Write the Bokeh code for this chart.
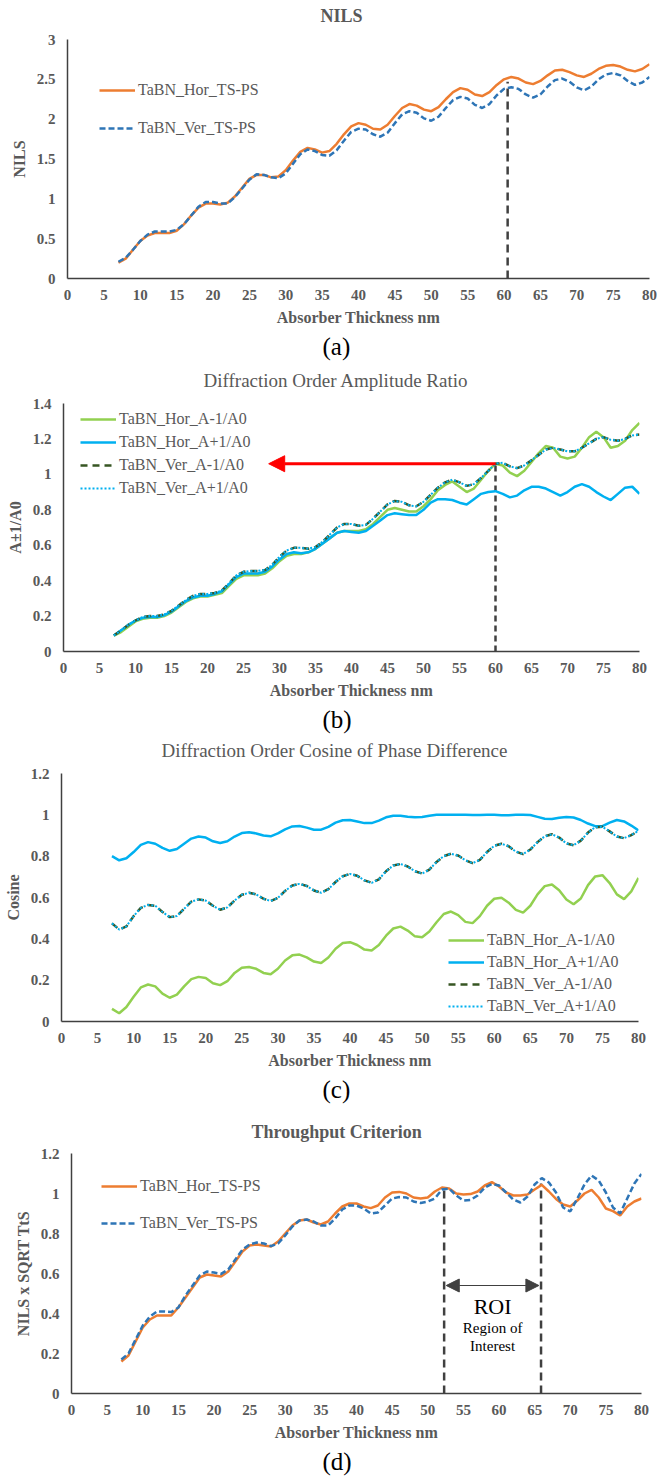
from bokeh.plotting import figure
from bokeh.models import (Range1d, Legend, LegendItem, Title, Arrow, NormalHead,
                          Label, CustomJSTickFormatter, FixedTicker)
from bokeh.embed import file_html
from bokeh.resources import INLINE

# ---------------- data ----------------
thickness = list(range(7, 81))

nils_hor = [0.20, 0.25, 0.36, 0.47, 0.54, 0.57, 0.57, 0.57, 0.60, 0.68, 0.79, 0.89, 0.94, 0.94,
            0.93, 0.95, 1.03, 1.14, 1.25, 1.30, 1.30, 1.27, 1.28, 1.36, 1.48, 1.59, 1.64, 1.62,
            1.58, 1.60, 1.69, 1.81, 1.91, 1.95, 1.93, 1.88, 1.87, 1.93, 2.04, 2.14, 2.19, 2.17,
            2.12, 2.10, 2.15, 2.25, 2.34, 2.39, 2.37, 2.31, 2.29, 2.34, 2.43, 2.50, 2.53, 2.51,
            2.46, 2.44, 2.48, 2.55, 2.61, 2.62, 2.59, 2.55, 2.53, 2.57, 2.63, 2.67, 2.68, 2.66,
            2.62, 2.60, 2.63, 2.69]
nils_ver = [0.21, 0.26, 0.36, 0.47, 0.55, 0.59, 0.59, 0.59, 0.61, 0.68, 0.79, 0.90, 0.96, 0.96,
            0.94, 0.94, 1.02, 1.13, 1.24, 1.31, 1.30, 1.27, 1.26, 1.32, 1.44, 1.56, 1.62, 1.60,
            1.55, 1.54, 1.61, 1.73, 1.84, 1.88, 1.87, 1.81, 1.78, 1.83, 1.95, 2.06, 2.10, 2.08,
            2.01, 1.98, 2.03, 2.14, 2.24, 2.28, 2.26, 2.18, 2.14, 2.19, 2.30, 2.38, 2.40, 2.38,
            2.31, 2.27, 2.31, 2.41, 2.49, 2.51, 2.47, 2.40, 2.36, 2.41, 2.50, 2.56, 2.58, 2.55,
            2.48, 2.43, 2.46, 2.53]

amp_hor_m1 = [0.09, 0.11, 0.14, 0.17, 0.185, 0.19, 0.19, 0.20, 0.22, 0.25, 0.28, 0.30, 0.31, 0.31,
              0.32, 0.33, 0.37, 0.41, 0.43, 0.43, 0.43, 0.44, 0.47, 0.51, 0.54, 0.55, 0.55, 0.56,
              0.58, 0.61, 0.64, 0.67, 0.68, 0.68, 0.68, 0.69, 0.72, 0.76, 0.80, 0.81, 0.80, 0.79,
              0.79, 0.82, 0.86, 0.91, 0.94, 0.96, 0.93, 0.90, 0.92, 0.97, 1.02, 1.06, 1.05, 1.01,
              0.99, 1.02, 1.07, 1.12, 1.16, 1.15, 1.10, 1.09, 1.10, 1.15, 1.21, 1.24, 1.21, 1.15,
              1.16, 1.19, 1.25, 1.29]
amp_hor_p1 = [0.09, 0.12, 0.15, 0.175, 0.19, 0.195, 0.195, 0.205, 0.225, 0.255, 0.285, 0.305, 0.315,
              0.315, 0.325, 0.34, 0.38, 0.42, 0.44, 0.44, 0.44, 0.45, 0.48, 0.52, 0.55, 0.56, 0.555,
              0.56, 0.58, 0.61, 0.64, 0.67, 0.68, 0.675, 0.67, 0.68, 0.71, 0.74, 0.77, 0.78, 0.775,
              0.77, 0.77, 0.80, 0.84, 0.86, 0.86, 0.855, 0.84, 0.83, 0.86, 0.89, 0.90, 0.905, 0.89,
              0.87, 0.88, 0.91, 0.93, 0.93, 0.92, 0.90, 0.88, 0.90, 0.93, 0.945, 0.93, 0.90, 0.875,
              0.855, 0.89, 0.925, 0.93, 0.89]
amp_ver_m1 = [0.09, 0.12, 0.15, 0.175, 0.195, 0.20, 0.20, 0.21, 0.23, 0.26, 0.29, 0.315, 0.325, 0.325,
              0.33, 0.345, 0.385, 0.43, 0.45, 0.455, 0.455, 0.46, 0.49, 0.535, 0.57, 0.585, 0.585,
              0.58, 0.59, 0.62, 0.66, 0.70, 0.72, 0.72, 0.71, 0.715, 0.75, 0.79, 0.83, 0.85, 0.845,
              0.825, 0.82, 0.845, 0.885, 0.925, 0.955, 0.97, 0.955, 0.935, 0.945, 0.98, 1.02, 1.06,
              1.065, 1.045, 1.035, 1.05, 1.08, 1.11, 1.14, 1.15, 1.14, 1.13, 1.13, 1.15, 1.175, 1.20,
              1.21, 1.195, 1.19, 1.20, 1.22, 1.225]
amp_ver_p1 = [0.09, 0.12, 0.15, 0.175, 0.195, 0.20, 0.20, 0.21, 0.23, 0.26, 0.29, 0.315, 0.325, 0.325,
              0.33, 0.345, 0.385, 0.43, 0.45, 0.455, 0.455, 0.46, 0.49, 0.535, 0.57, 0.585, 0.585,
              0.58, 0.59, 0.62, 0.66, 0.70, 0.72, 0.72, 0.71, 0.715, 0.75, 0.79, 0.83, 0.85, 0.845,
              0.825, 0.82, 0.845, 0.885, 0.925, 0.955, 0.97, 0.955, 0.935, 0.945, 0.98, 1.02, 1.06,
              1.065, 1.045, 1.035, 1.05, 1.08, 1.11, 1.14, 1.15, 1.14, 1.13, 1.13, 1.15, 1.175, 1.20,
              1.21, 1.195, 1.19, 1.20, 1.22, 1.225]

cos_hor_m1 = [0.061, 0.04, 0.07, 0.12, 0.165, 0.179, 0.17, 0.135, 0.115, 0.13, 0.17, 0.205, 0.216,
              0.21, 0.185, 0.176, 0.195, 0.235, 0.26, 0.264, 0.255, 0.235, 0.229, 0.255, 0.295, 0.32,
              0.324, 0.31, 0.29, 0.283, 0.31, 0.352, 0.38, 0.384, 0.37, 0.348, 0.344, 0.37, 0.415,
              0.45, 0.459, 0.44, 0.412, 0.408, 0.435, 0.48, 0.52, 0.532, 0.515, 0.482, 0.476, 0.51,
              0.56, 0.594, 0.599, 0.575, 0.54, 0.527, 0.56, 0.615, 0.655, 0.663, 0.635, 0.59, 0.567,
              0.595, 0.66, 0.702, 0.708, 0.67, 0.615, 0.592, 0.63, 0.695]
cos_hor_p1 = [0.80, 0.78, 0.79, 0.82, 0.855, 0.868, 0.86, 0.84, 0.826, 0.835, 0.86, 0.885, 0.895,
              0.89, 0.872, 0.864, 0.872, 0.895, 0.912, 0.916, 0.91, 0.90, 0.896, 0.91, 0.93, 0.944,
              0.946, 0.938, 0.928, 0.928, 0.942, 0.962, 0.974, 0.975, 0.968, 0.96, 0.96, 0.972,
              0.988, 0.996, 0.996, 0.991, 0.988, 0.99, 0.996, 1.0, 1.0, 1.0, 1.0, 1.0, 0.999, 0.999,
              1.0, 1.0, 0.998, 0.998, 1.0, 1.0, 0.999, 0.99, 0.981, 0.98, 0.986, 0.99, 0.987, 0.975,
              0.958, 0.945, 0.945, 0.962, 0.975, 0.968, 0.948, 0.924]
cos_ver_m1 = [0.475, 0.445, 0.46, 0.51, 0.55, 0.564, 0.56, 0.53, 0.505, 0.51, 0.545, 0.58, 0.591,
              0.585, 0.56, 0.541, 0.552, 0.585, 0.613, 0.623, 0.615, 0.594, 0.583, 0.598, 0.632,
              0.658, 0.666, 0.656, 0.634, 0.623, 0.64, 0.675, 0.703, 0.714, 0.705, 0.683, 0.671,
              0.688, 0.727, 0.755, 0.762, 0.75, 0.727, 0.716, 0.735, 0.772, 0.80, 0.812, 0.803, 0.78,
              0.766, 0.782, 0.82, 0.85, 0.86, 0.848, 0.822, 0.81, 0.832, 0.868, 0.896, 0.906, 0.89,
              0.862, 0.853, 0.875, 0.914, 0.94, 0.942, 0.92, 0.895, 0.887, 0.902, 0.922]
cos_ver_p1 = [0.475, 0.445, 0.46, 0.51, 0.55, 0.564, 0.56, 0.53, 0.505, 0.51, 0.545, 0.58, 0.591,
              0.585, 0.56, 0.541, 0.552, 0.585, 0.613, 0.623, 0.615, 0.594, 0.583, 0.598, 0.632,
              0.658, 0.666, 0.656, 0.634, 0.623, 0.64, 0.675, 0.703, 0.714, 0.705, 0.683, 0.671,
              0.688, 0.727, 0.755, 0.762, 0.75, 0.727, 0.716, 0.735, 0.772, 0.80, 0.812, 0.803, 0.78,
              0.766, 0.782, 0.82, 0.85, 0.86, 0.848, 0.822, 0.81, 0.832, 0.868, 0.896, 0.906, 0.89,
              0.862, 0.853, 0.875, 0.914, 0.94, 0.942, 0.92, 0.895, 0.887, 0.902, 0.922]

tput_hor = [0.16, 0.19, 0.26, 0.33, 0.37, 0.39, 0.39, 0.39, 0.43, 0.48, 0.53, 0.58, 0.595, 0.59,
            0.585, 0.61, 0.66, 0.71, 0.74, 0.745, 0.74, 0.735, 0.76, 0.80, 0.84, 0.865, 0.87, 0.855,
            0.845, 0.86, 0.90, 0.935, 0.95, 0.95, 0.935, 0.927, 0.94, 0.98, 1.005, 1.008, 1.0, 0.98,
            0.975, 0.98, 1.01, 1.03, 1.025, 1.0, 0.995, 0.997, 1.01, 1.04, 1.057, 1.035, 1.005, 0.99,
            0.99, 0.995, 1.02, 1.043, 1.01, 0.973, 0.945, 0.935, 0.965, 1.0, 1.018, 0.98, 0.925,
            0.912, 0.89, 0.935, 0.96, 0.975]
tput_ver = [0.17, 0.20, 0.27, 0.34, 0.385, 0.41, 0.41, 0.407, 0.43, 0.49, 0.54, 0.59, 0.61, 0.605,
            0.598, 0.62, 0.67, 0.72, 0.745, 0.755, 0.75, 0.737, 0.75, 0.79, 0.835, 0.865, 0.87, 0.86,
            0.84, 0.84, 0.875, 0.92, 0.94, 0.94, 0.925, 0.90, 0.905, 0.94, 0.975, 0.982, 0.98, 0.96,
            0.953, 0.96, 0.975, 1.02, 1.025, 0.99, 0.965, 0.968, 0.99, 1.03, 1.048, 1.04, 1.005,
            0.97, 0.955, 0.985, 1.045, 1.077, 1.055, 1.005, 0.93, 0.91, 0.975, 1.045, 1.09, 1.065,
            1.005, 0.93, 0.90, 0.975, 1.05, 1.098]

x_ticks = list(range(0, 81, 5))
nils_ticks = [0, 0.5, 1, 1.5, 2, 2.5, 3]
amp_ticks = [0, 0.2, 0.4, 0.6, 0.8, 1.0, 1.2, 1.4]
cos_ticks = [0, 0.2, 0.4, 0.6, 0.8, 1.0, 1.2]
tput_ticks = [0, 0.2, 0.4, 0.6, 0.8, 1.0, 1.2]

nils_marker = (60.5, 2.47)
amp_marker = (60, 1.06)
amp_arrow_end = 28.5
roi_left = (52.3, 1.03)
roi_right = (65.9, 1.05)
roi_arrow_y = 0.54

# ---------------- styles ----------------
SERIF = "Liberation Serif"
GREY = "#595959"
ORANGE = "#ED7D31"
BLUE = "#2E75B6"
GREEN = "#92D050"
CYAN = "#00B0F0"
DKGREEN = "#375623"
AXIS = "#404040"

fmt = CustomJSTickFormatter(code="return parseFloat(tick.toFixed(2)).toString();")


def make_fig(height, top, bottom, left, right, title, bold, tsize, title_off, title_so, gap,
             ylabel, ymax, yticks, caption, cap_off):
    p = figure(width=657, height=height, output_backend="svg", toolbar_location=None,
               x_range=Range1d(0, 80), y_range=Range1d(0, ymax),
               min_border_top=top, min_border_bottom=bottom,
               min_border_left=left, min_border_right=right)
    p.outline_line_color = None
    p.grid.visible = False
    p.title.text = ""
    # thin spacer between the frame and the chart title
    p.add_layout(Title(text=" ", text_font_size="1px", standoff=gap), "above")
    p.add_layout(Title(text=title, align="left", offset=title_off, text_font=SERIF,
                       text_font_size=tsize, text_font_style="bold" if bold else "normal",
                       text_color=GREY, standoff=title_so), "above")
    for ax in (p.xaxis[0], p.yaxis[0]):
        ax.axis_line_color = AXIS
        ax.axis_line_width = 1.5
        ax.major_tick_line_color = None
        ax.minor_tick_line_color = None
        ax.major_tick_out = 0
        ax.major_tick_in = 0
        ax.minor_tick_out = 0
        ax.major_label_text_font = SERIF
        ax.major_label_text_font_style = "bold"
        ax.major_label_text_font_size = "15px"
        ax.major_label_text_color = GREY
        ax.axis_label_text_font = SERIF
        ax.axis_label_text_font_style = "bold"
        ax.axis_label_text_font_size = "16px"
        ax.axis_label_text_color = GREY
    p.xaxis[0].ticker = FixedTicker(ticks=x_ticks)
    p.yaxis[0].ticker = FixedTicker(ticks=yticks)
    p.yaxis[0].formatter = fmt
    p.xaxis[0].major_label_standoff = 11
    p.yaxis[0].major_label_standoff = 12
    p.xaxis[0].axis_label = "Absorber Thickness nm"
    p.xaxis[0].axis_label_standoff = 6
    p.yaxis[0].axis_label = ylabel
    p.yaxis[0].axis_label_standoff = 6
    p.add_layout(Title(text=caption, align="left", offset=cap_off, text_font=SERIF,
                       text_font_size="25px", text_font_style="normal", text_color="black",
                       standoff=5), "below")
    return p


def make_legend(items, loc, spacing):
    return Legend(items=items, location=loc, margin=0, padding=4, spacing=spacing,
                  glyph_width=36, glyph_height=20, label_height=20, label_standoff=3,
                  label_text_font=SERIF, label_text_font_size="16px", label_text_color=GREY,
                  border_line_color=None, background_fill_alpha=0)


# ---------------- (a) NILS ----------------
pa = make_fig(365, 39, 87, 67, 8, "NILS", True, "18px", 253, 5, 8, "NILS", 3, nils_ticks,
              "(a)", 255)
pa.segment(x0=[nils_marker[0]], y0=[0], x1=[nils_marker[0]], y1=[nils_marker[1]],
           line_color=AXIS, line_width=2.5, line_dash="8 5")
ra1 = pa.line(thickness, nils_hor, line_color=ORANGE, line_width=2.5)
ra2 = pa.line(thickness, nils_ver, line_color=BLUE, line_width=2.5, line_dash="6 3")
pa.add_layout(make_legend([LegendItem(label="TaBN_Hor_TS-PS", renderers=[ra1]),
                           LegendItem(label="TaBN_Ver_TS-PS", renderers=[ra2])],
                          (32, 140), 18))

# ---------------- (b) amplitude ratio ----------------
pb = make_fig(370, 37, 84, 63, 18, "Diffraction Order Amplitude Ratio", False, "19px", 140, 4, 8,
              "A±1/A0", 1.4, amp_ticks, "(b)", 259)
pb.segment(x0=[amp_marker[0]], y0=[0], x1=[amp_marker[0]], y1=[amp_marker[1]],
           line_color=AXIS, line_width=2.5, line_dash="6 4")
pb.add_layout(Arrow(end=NormalHead(size=16, fill_color="red", line_color="red"),
                    x_start=amp_marker[0], y_start=amp_marker[1], x_end=amp_arrow_end,
                    y_end=amp_marker[1], line_color="red", line_width=3))
rb1 = pb.line(thickness, amp_hor_m1, line_color=GREEN, line_width=2.5)
rb2 = pb.line(thickness, amp_hor_p1, line_color=CYAN, line_width=2.5)
rb3 = pb.line(thickness, amp_ver_m1, line_color=DKGREEN, line_width=2.5, line_dash="7 5")
rb4 = pb.line(thickness, amp_ver_p1, line_color=CYAN, line_width=2, line_dash="2 2")
pb.add_layout(make_legend([LegendItem(label="TaBN_Hor_A-1/A0", renderers=[rb1]),
                           LegendItem(label="TaBN_Hor_A+1/A0", renderers=[rb2]),
                           LegendItem(label="TaBN_Ver_A-1/A0", renderers=[rb3]),
                           LegendItem(label="TaBN_Ver_A+1/A0", renderers=[rb4])],
                          (17, 153), 3))

# ---------------- (c) cosine ----------------
pc = make_fig(370, 38, 82, 61, 19, "Diffraction Order Cosine of Phase Difference", False, "19px",
              100, 4, 8, "Cosine", 1.2, cos_ticks, "(c)", 261)
rc1 = pc.line(thickness, cos_hor_m1, line_color=GREEN, line_width=2.5)
rc2 = pc.line(thickness, cos_hor_p1, line_color=CYAN, line_width=2.5)
rc3 = pc.line(thickness, cos_ver_m1, line_color=DKGREEN, line_width=2.5, line_dash="7 5")
rc4 = pc.line(thickness, cos_ver_p1, line_color=CYAN, line_width=2, line_dash="2 2")
pc.add_layout(make_legend([LegendItem(label="TaBN_Hor_A-1/A0", renderers=[rc1]),
                           LegendItem(label="TaBN_Hor_A+1/A0", renderers=[rc2]),
                           LegendItem(label="TaBN_Ver_A-1/A0", renderers=[rc3]),
                           LegendItem(label="TaBN_Ver_A+1/A0", renderers=[rc4])],
                          (387, 5), 2))

# ---------------- (d) throughput ----------------
pd_ = make_fig(372, 48, 84, 71, 16, "Throughput Criterion", True, "18px", 180, 5, 6,
               "NILS x SQRT TtS", 1.2, tput_ticks, "(d)", 251)
pd_.segment(x0=[roi_left[0], roi_right[0]], y0=[0, 0], x1=[roi_left[0], roi_right[0]],
            y1=[roi_left[1], roi_right[1]], line_color=AXIS, line_width=2.5, line_dash="8 5")
pd_.add_layout(Arrow(start=NormalHead(size=13, fill_color=AXIS, line_color=AXIS),
                     end=NormalHead(size=13, fill_color=AXIS, line_color=AXIS),
                     x_start=roi_left[0] + 0.3, y_start=roi_arrow_y, x_end=roi_right[0] - 0.3,
                     y_end=roi_arrow_y, line_color=AXIS, line_width=1))
roi_mid = (roi_left[0] + roi_right[0]) / 2
pd_.add_layout(Label(x=roi_mid, y=0.435, text="ROI", text_font=SERIF, text_font_size="22px",
                     text_align="center", text_baseline="middle", text_color="black"))
pd_.add_layout(Label(x=roi_mid, y=0.33, text="Region of", text_font=SERIF, text_font_size="15px",
                     text_align="center", text_baseline="middle", text_color="black"))
pd_.add_layout(Label(x=roi_mid, y=0.24, text="Interest", text_font=SERIF, text_font_size="15px",
                     text_align="center", text_baseline="middle", text_color="black"))
rd1 = pd_.line(thickness, tput_hor, line_color=ORANGE, line_width=2.5)
rd2 = pd_.line(thickness, tput_ver, line_color=BLUE, line_width=2.5, line_dash="6 3")
pd_.add_layout(make_legend([LegendItem(label="TaBN_Hor_TS-PS", renderers=[rd1]),
                            LegendItem(label="TaBN_Ver_TS-PS", renderers=[rd2])],
                           (30, 160), 17))

open("out.html", "w").write(file_html([pa, pb, pc, pd_], INLINE))
